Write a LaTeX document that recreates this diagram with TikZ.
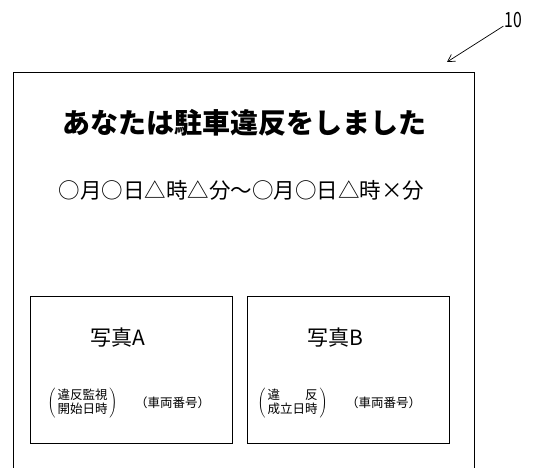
\documentclass[tikz,border=0pt]{standalone}
\usepackage{fontspec}
\setmainfont{Noto Sans CJK JP}
\usetikzlibrary{arrows.meta}
\renewcommand{\arraystretch}{0.9}
\tikzset{
  panel/.style={draw, line width=0.9pt, minimum width=202pt, minimum height=147pt, inner sep=0pt},
  small/.style={font=\fontsize{12.5}{13}\selectfont, inner sep=0pt},
  photo/.style={font=\fontsize{21}{21}\selectfont, inner sep=0pt},
}

\begin{document}
\begin{tikzpicture}[x=1pt,y=-1pt]
\useasboundingbox (0,0) rectangle (533,468);

% screen 10
\draw[line width=0.9pt] (13,468) -- (13,72) -- (474,72) -- (474,468);
\node[font=\fontsize{21}{21}\selectfont, xscale=0.75, inner sep=1pt] (num) at (513,20) {10};
\coordinate (tip) at (447,62);
\draw[line width=0.7pt, -{Straight Barb[length=7pt,width=8pt]}] (num) -- (tip);

% message
\node[font=\fontsize{28}{28}\selectfont\bfseries] (title) at (244.5,123) {あなたは駐車違反をしました};
\node[font=\fontsize{21.5}{22}\selectfont] (period) at (241.5,190) {○月○日△時△分～○月○日△時×分};

% photo A
\node[panel] (photoA) at (131,369.5) {};
\node[photo] (labelA) at (117.5,338) {写真A};
\node[small] (startA) at (82.5,403) {$\left(\,\begin{tabular}{@{}c@{}}違反監視\\開始日時\end{tabular}\,\right)$};
\node[small] (plateA) at (172.5,403) {（車両番号）};

% photo B
\node[panel] (photoB) at (348,369.5) {};
\node[photo] (labelB) at (335.5,338) {写真B};
\node[small] (startB) at (292.5,403) {$\left(\,\begin{tabular}{@{}c@{}}違　　反\\成立日時\end{tabular}\,\right)$};
\node[small] (plateB) at (383.5,403) {（車両番号）};
\end{tikzpicture}
\end{document}
